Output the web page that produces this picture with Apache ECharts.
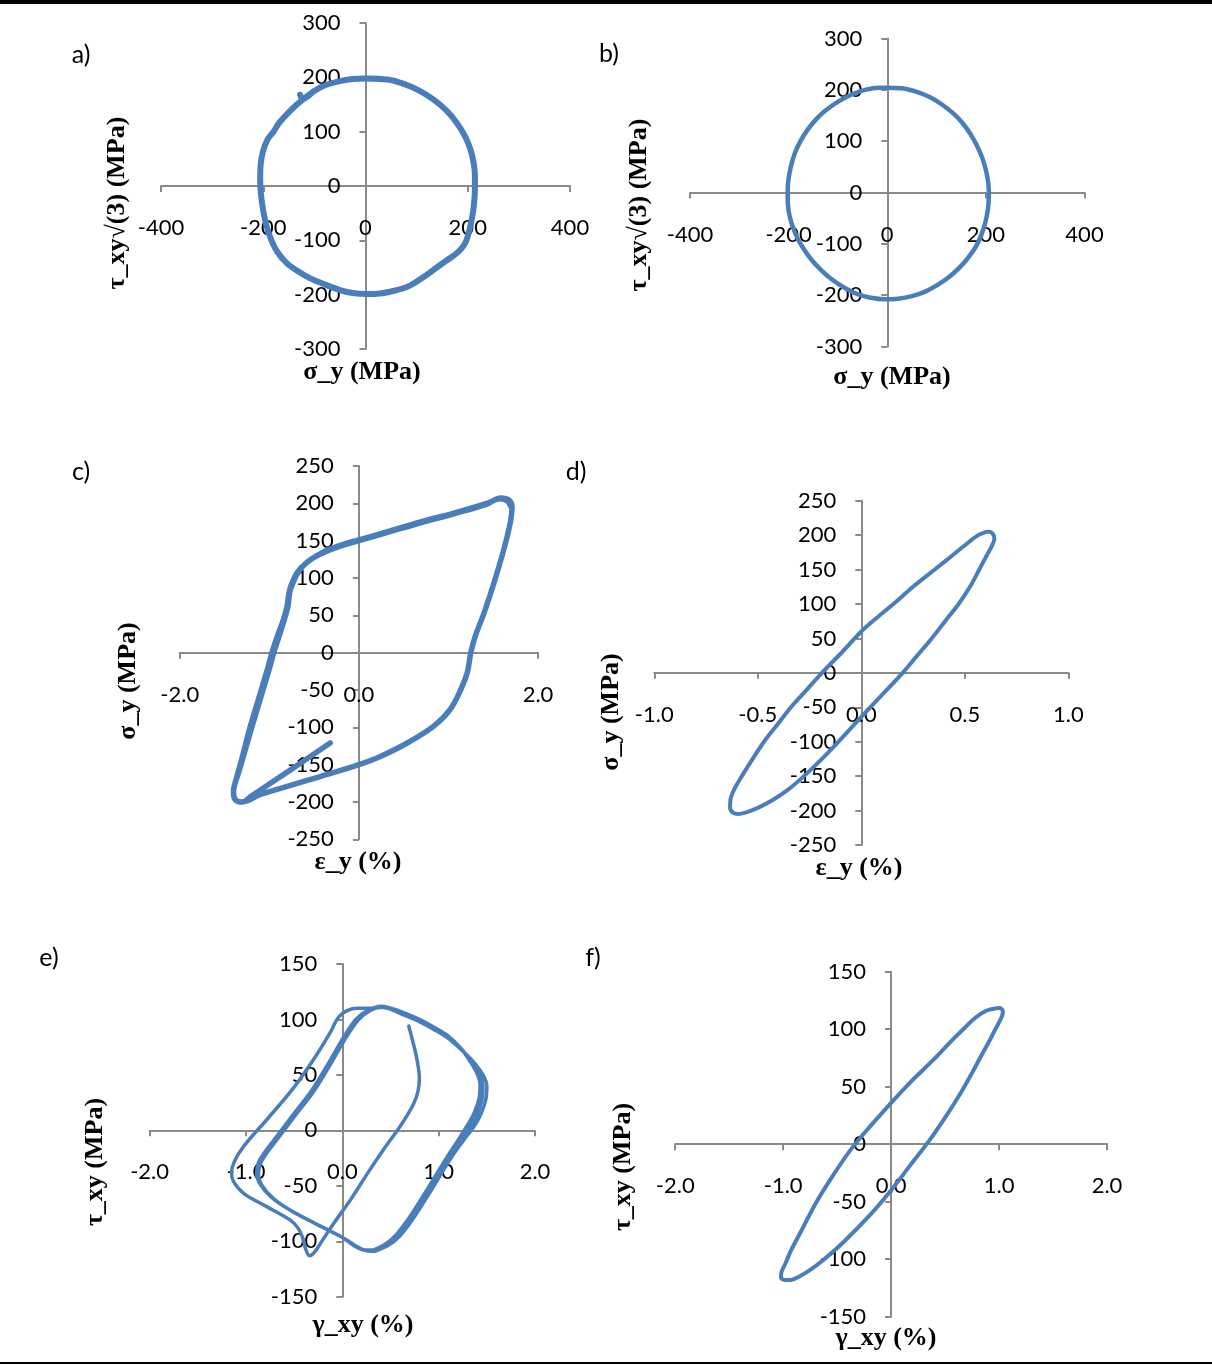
<!DOCTYPE html>
<html>
<head>
<meta charset="utf-8">
<script src="https://cdn.jsdelivr.net/npm/echarts@6/dist/echarts.min.js"></script>
<style>
  html, body { margin: 0; padding: 0; background: #ffffff; }
  #chart { width: 1212px; height: 1365px; }
</style>
</head>
<body>
<div id="chart"></div>
<script>
// ---------- (a) stress path, sigma_y vs tau_xy*sqrt(3) ----------
const sigmaA = [-128, -123, -100, -78, -50, -25, 0, 43, 75, 104, 132, 157, 178, 195, 205, 211, 214, 214, 213, 210, 204, 195, 178, 157, 138, 119, 100, 81, 55, 28, 0, -25, -48, -80, -108, -132, -154, -172, -184, -194, -201, -205, -206, -205, -201, -192, -180, -169, -148, -123, -100, -78, -50, -25, 0, 40];
const tauA   = [168, 160, 175, 186, 193, 197, 198, 196, 188, 176, 160, 140, 117, 91, 68, 45, 20, -2, -25, -50, -78, -105, -124, -138, -151, -164, -176, -186, -193, -198, -199, -197, -192, -181, -170, -157, -142, -122, -100, -72, -40, -10, 15, 40, 62, 85, 100, 116, 138, 159, 175, 186, 193, 197, 198, 196];

// ---------- (b) stress path, sigma_y vs tau_xy*sqrt(3) ----------
const sigmaB = [0, 30, 60, 88, 113, 135, 153, 168, 181, 192, 200, 205, 206, 204, 199, 191, 180, 165, 147, 126, 102, 77, 50, 22, -6, -33, -60, -86, -110, -132, -152, -168, -182, -193, -200, -202, -201, -196, -188, -176, -161, -143, -122, -98, -72, -45, -16, 0, 30];
const tauB   = [204, 203, 196, 185, 170, 153, 135, 115, 93, 69, 44, 18, -8, -33, -58, -82, -105, -126, -146, -164, -180, -193, -202, -207, -208, -205, -198, -186, -171, -153, -133, -112, -89, -63, -36, -8, 20, 48, 75, 100, 123, 144, 162, 178, 191, 200, 204, 204, 203];

// ---------- (c) axial hysteresis, epsilon_y (%) vs sigma_y ----------
const strainC = [-0.32, -0.80, -1.20, -1.30, -1.37, -1.40, -1.36, -1.32, -1.21, -1.10, -1.02, -0.97, -0.91, -0.84, -0.80, -0.78, -0.76, -0.69, -0.58, -0.43, -0.20, 0, 0.32, 0.69, 1.06, 1.43, 1.58, 1.68, 1.71, 1.69, 1.62, 1.51, 1.40, 1.30, 1.25, 1.21, 1.14, 1.02, 0.84, 0.54, 0.24, 0, -0.43, -0.80, -1.10, -1.30, -1.38, -1.40, -1.34, -1.19, -1.08, -1.00, -0.95, -0.89, -0.83, -0.79, -0.77, -0.74, -0.67, -0.56, -0.41, -0.20, 0, 0.32, 0.69, 1.06, 1.43, 1.58, 1.66, 1.70];
const stressC = [-121, -160, -192, -200, -198, -188, -165, -148, -98, -54, -22, 0, 22, 45, 63, 80, 89, 107, 121, 132, 143, 150, 161, 174, 186, 199, 207, 204, 195, 174, 139, 94, 54, 22, 0, -27, -49, -76, -98, -121, -139, -150, -166, -179, -190, -200, -197, -186, -160, -98, -54, -22, 0, 22, 45, 63, 82, 92, 109, 123, 134, 144, 151, 162, 175, 187, 200, 206, 203, 195];

// ---------- (d) axial hysteresis, epsilon_y (%) vs sigma_y ----------
const strainD = [0.60, 0.565, 0.52, 0.45, 0.355, 0.25, 0.155, 0.075, 0, -0.09, -0.19, -0.265, -0.34, -0.405, -0.47, -0.525, -0.577, -0.612, -0.632, -0.634, -0.62, -0.595, -0.56, -0.50, -0.43, -0.355, -0.277, -0.19, -0.11, 0, 0.1, 0.2, 0.27, 0.34, 0.405, 0.47, 0.525, 0.57, 0.605, 0.632, 0.643, 0.635, 0.618, 0.60];
const stressD = [204.5, 200, 190, 173, 150, 125, 100, 80, 60, 31, 0, -25, -50, -75, -100, -125, -150, -168, -184, -196, -203, -205, -203, -196, -185, -170, -150, -125, -100, -64, -32, 0, 25, 50, 75, 100, 125, 150, 170, 185, 195, 202, 205, 204.5];

// ---------- (e) shear hysteresis, gamma_xy (%) vs tau_xy ----------
const gammaE = [0.69, 0.72, 0.755, 0.785, 0.80, 0.785, 0.74, 0.67, 0.58, 0.43, 0.26, 0.09, -0.09, -0.22, -0.29, -0.34, -0.38, -0.41, -0.46, -0.54, -0.78, -1.02, -1.13, -1.15, -1.12, -1.02, -0.78, -0.50, -0.26, -0.12, -0.04, 0.05, 0.16, 0.30, 0.42,
  0.61, 0.80, 0.95, 1.10, 1.23, 1.36, 1.46, 1.50, 1.49, 1.44, 1.37, 1.25, 1.12, 1.00, 0.88, 0.74, 0.60, 0.47, 0.33, 0.24, 0.14, 0.03, -0.10, -0.26, -0.54, -0.72, -0.83, -0.87, -0.85, -0.78, -0.71, -0.50, -0.29, -0.12, 0.02, 0.16, 0.27, 0.40,
  0.61, 0.80, 0.95, 1.10, 1.23, 1.34, 1.43, 1.46, 1.45, 1.40, 1.33, 1.22, 1.10, 0.98, 0.86, 0.72, 0.58, 0.45, 0.33, 0.22, 0.12, 0.01, -0.12, -0.28, -0.56, -0.74, -0.85, -0.89, -0.87, -0.80, -0.73, -0.52, -0.31, -0.14, 0.00, 0.14, 0.26, 0.40,
  0.61, 0.80, 0.95, 1.10, 1.22, 1.32, 1.40, 1.43, 1.42, 1.37, 1.30, 1.20, 1.08, 0.96, 0.84, 0.70, 0.56, 0.44, 0.32];
const tauE = [94, 84, 72, 59, 47, 35, 24, 13, 1, -17, -39, -62, -84, -101, -110, -113, -107, -97, -88, -81, -69, -57, -46, -38, -28, -14, 10, 39, 69, 89, 102, 108, 110, 110, 111,
  105, 98, 91, 83, 73, 62, 50, 40, 28, 15, 4, -10, -26, -43, -60, -79, -95, -104, -108, -108, -104, -98, -92, -85, -72, -61, -50, -40, -30, -20, -12, 12, 36, 60, 81, 99, 107, 111,
  106, 99, 92, 84, 74, 62, 50, 40, 28, 15, 4, -10, -26, -43, -60, -79, -95, -104, -109, -108, -104, -97, -91, -84, -71, -60, -49, -39, -29, -19, -11, 13, 37, 61, 82, 100, 108, 112,
  107, 100, 93, 85, 75, 63, 51, 41, 29, 16, 5, -9, -25, -42, -59, -78, -94, -103, -108];

// ---------- (f) shear hysteresis, gamma_xy (%) vs tau_xy ----------
const gammaF = [0.958, 0.88, 0.78, 0.68, 0.55, 0.43, 0.30, 0.18, 0, -0.18, -0.36, -0.53, -0.69, -0.83, -0.93, -0.98, -1.015, -1.02, -0.99, -0.93, -0.85, -0.76, -0.62, -0.44, -0.19, 0, 0.18, 0.36, 0.52, 0.647, 0.75, 0.83, 0.90, 0.955, 1.0, 1.03, 1.035, 1.0, 0.958];
const tauF   = [118, 116, 110, 101, 89, 77, 65, 54, 36, 17, -3, -26, -50, -75, -93, -104, -111, -116, -118, -118, -115, -110, -100, -85, -61, -40, -18, 4, 26, 45, 62, 76, 88, 98, 106, 112, 116, 118.5, 118];

// ---------- tick values of each axis ----------
const ticksStressWide = [-400, -200, 0, 200, 400];
const ticksStressTall = [-300, -200, -100, 0, 100, 200, 300];
const ticksStrainC    = [-2.0, 0.0, 2.0];
const ticksStrainD    = [-1.0, -0.5, 0.0, 0.5, 1.0];
const ticksStress250  = [-250, -200, -150, -100, -50, 0, 50, 100, 150, 200, 250];
const ticksGamma      = [-2.0, -1.0, 0.0, 1.0, 2.0];
const ticksTau150     = [-150, -100, -50, 0, 50, 100, 150];

const lineBlue = '#4a7ebb';
const axisGray = '#8a8a8a';
const tickFont = 'Lato, "Open Sans", sans-serif';
const titleFont = '"Liberation Serif", "Times New Roman", serif';

// one entry per panel: grid box, tick sets, axis titles (with their centres) and curve
const panels = [
  { box: [161, 23, 409, 326], xt: ticksStressWide, yt: ticksStressTall, xDec: 0,
    xName: 'σ_y (MPa)', yName: 'τ_xy√(3) (MPa)', xNamePos: [362, 372], yNamePos: [117, 203],
    xs: sigmaA, ys: tauA, width: 6 },
  { box: [690, 38.5, 394.5, 308], xt: ticksStressWide, yt: ticksStressTall, xDec: 0,
    xName: 'σ_y (MPa)', yName: 'τ_xy√(3) (MPa)', xNamePos: [892, 377], yNamePos: [639, 205],
    xs: sigmaB, ys: tauB, width: 4.5 },
  { box: [179.7, 466, 358.3, 373.3], xt: ticksStrainC, yt: ticksStress250, xDec: 1,
    xName: 'ε_y (%)', yName: 'σ_y (MPa)', xNamePos: [358, 862], yNamePos: [128, 681],
    xs: strainC, ys: stressC, width: 5.5 },
  { box: [654.3, 500.7, 414, 344.3], xt: ticksStrainD, yt: ticksStress250, xDec: 1,
    xName: 'ε_y (%)', yName: 'σ_y (MPa)', xNamePos: [859, 868], yNamePos: [611, 712],
    xs: strainD, ys: stressD, width: 4 },
  { box: [149.6, 964, 385.4, 332.7], xt: ticksGamma, yt: ticksTau150, xDec: 1,
    xName: 'γ_xy (%)', yName: 'τ_xy (MPa)', xNamePos: [363, 1325], yNamePos: [95, 1162],
    xs: gammaE, ys: tauE, width: 3.5 },
  { box: [675.2, 971.7, 431.8, 345], xt: ticksGamma, yt: ticksTau150, xDec: 1,
    xName: 'γ_xy (%)', yName: 'τ_xy (MPa)', xNamePos: [886, 1338], yNamePos: [623, 1167],
    xs: gammaF, ys: tauF, width: 4 }
];

const panelTags = [
  { text: 'a)', x: 81, y: 55 },
  { text: 'b)', x: 609, y: 54 },
  { text: 'c)', x: 81, y: 472 },
  { text: 'd)', x: 576, y: 472 },
  { text: 'e)', x: 49, y: 958 },
  { text: 'f)', x: 593, y: 958 }
];

const grids = [], xAxes = [], yAxes = [], series = [], graphics = [];
panels.forEach((p, i) => {
  const [gl, gt, gw, gh] = p.box;
  const xMin = p.xt[0], xMax = p.xt[p.xt.length - 1];
  const yMin = p.yt[0], yMax = p.yt[p.yt.length - 1];
  // the axes cross at the origin: shift each axis from the grid edge to the zero line
  const xAxisShift = -gh * (0 - yMin) / (yMax - yMin);
  const yAxisShift = -gw * (0 - xMin) / (xMax - xMin);
  grids.push({ left: gl, top: gt, width: gw, height: gh, containLabel: false, outerBoundsMode: 'none' });
  const axisLine = { show: true, onZero: false, lineStyle: { color: axisGray, width: 2 } };
  const axisTick = { show: true, inside: false, length: 6, lineStyle: { color: axisGray, width: 2 } };
  xAxes.push({
    type: 'value', gridIndex: i, position: 'bottom', offset: xAxisShift,
    min: xMin, max: xMax, interval: p.xt[1] - p.xt[0],
    axisLine, axisTick, splitLine: { show: false },
    axisLabel: {
      margin: 31, color: '#000', fontFamily: tickFont, fontSize: 22,
      showMinLabel: true, showMaxLabel: true,
      formatter: v => v.toFixed(p.xDec)
    }
  });
  yAxes.push({
    type: 'value', gridIndex: i, position: 'left', offset: yAxisShift,
    min: yMin, max: yMax, interval: p.yt[1] - p.yt[0],
    axisLine, axisTick, splitLine: { show: false },
    axisLabel: {
      margin: 25, color: '#000', fontFamily: tickFont, fontSize: 22,
      showMinLabel: true, showMaxLabel: true
    }
  });
  series.push({
    type: 'line', xAxisIndex: i, yAxisIndex: i,
    data: p.xs.map((x, k) => [x, p.ys[k]]),
    showSymbol: false, symbol: 'none', smooth: 0.35, silent: true,
    lineStyle: { color: lineBlue, width: p.width, cap: 'round', join: 'round' }
  });
  // axis titles
  graphics.push({
    type: 'text', x: p.xNamePos[0], y: p.xNamePos[1], silent: true,
    style: { text: p.xName, font: 'bold 26px ' + titleFont, fill: '#000', align: 'center', verticalAlign: 'middle' }
  });
  graphics.push({
    type: 'text', x: p.yNamePos[0], y: p.yNamePos[1], rotation: Math.PI / 2, silent: true,
    style: { text: p.yName, font: 'bold 26px ' + titleFont, fill: '#000', align: 'center', verticalAlign: 'middle' }
  });
});

panelTags.forEach(t => graphics.push({
  type: 'text', x: t.x, y: t.y, silent: true,
  style: { text: t.text, font: '25px ' + tickFont, fill: '#000', align: 'center', verticalAlign: 'middle' }
}));
// page frame: heavy rule on top, thin rule at the bottom
graphics.push({ type: 'rect', silent: true, shape: { x: 0, y: 0, width: 1212, height: 4 }, style: { fill: '#000' } });
graphics.push({ type: 'rect', silent: true, shape: { x: 0, y: 1362, width: 1212, height: 2 }, style: { fill: '#000' } });

const chart = echarts.init(document.getElementById('chart'), null, { renderer: 'canvas' });
chart.setOption({
  animation: false,
  backgroundColor: '#ffffff',
  grid: grids,
  xAxis: xAxes,
  yAxis: yAxes,
  series: series,
  graphic: graphics
});
</script>
</body>
</html>
